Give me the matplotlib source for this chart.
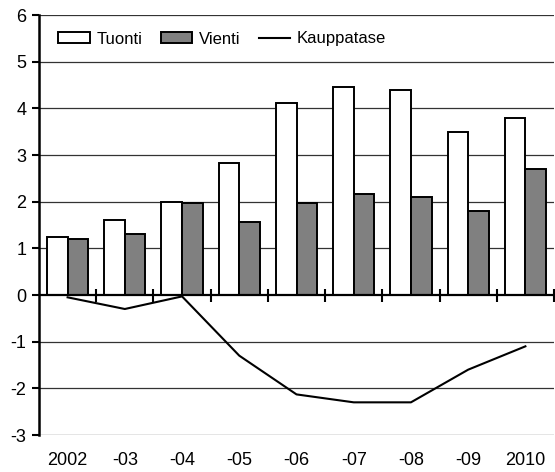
import matplotlib
matplotlib.use("Agg")
import matplotlib.pyplot as plt
import numpy as np
from matplotlib.patches import Patch
from matplotlib.lines import Line2D

plt.rcParams['font.family'] = ['Liberation Sans', 'DejaVu Sans']
plt.rcParams['axes.unicode_minus'] = False

categories = ['2002', '-03', '-04', '-05', '-06', '-07', '-08', '-09', '2010']
tuonti = [1.25, 1.6, 2.0, 2.82, 4.12, 4.45, 4.4, 3.5, 3.8]
vienti = [1.2, 1.3, 1.97, 1.57, 1.97, 2.17, 2.1, 1.8, 2.7]
kauppatase = [-0.05, -0.3, -0.03, -1.3, -2.13, -2.3, -2.3, -1.6, -1.1]
yticks = [-3, -2, -1, 0, 1, 2, 3, 4, 5, 6]

fig = plt.figure(figsize=(5.55, 4.72), dpi=100)
ax = fig.add_axes([39/555, 1-435/472, 515/555, 420/472])

x = np.arange(len(categories))
w = 0.36
ax.bar(x - w/2, tuonti, w, color='white', edgecolor='black', linewidth=1.4, zorder=3)
ax.bar(x + w/2, vienti, w, color='#808080', edgecolor='black', linewidth=1.4, zorder=3)
ax.plot(x, kauppatase, color='black', linewidth=1.5, zorder=4)

ax.set_xlim(-0.5, len(categories) - 0.5)
ax.set_ylim(-3, 6)
ax.set_yticks(yticks)
ax.set_yticklabels([str(v) for v in yticks])
for v in yticks:
    if v != 0:
        ax.axhline(v, color='#333333', linewidth=0.9, zorder=1)
ax.axhline(0, color='black', linewidth=1.6, zorder=5)
# category boundary ticks on zero line
ax.vlines(x[1:] - 0.5, -0.15, 0.12, color='black', linewidth=1.5, zorder=5)
ax.vlines([len(categories) - 0.5], -0.15, 0.12, color='black', linewidth=1.5, zorder=5, clip_on=False)

ax.set_xticks(x)
ax.set_xticklabels(categories)
ax.tick_params(axis='x', length=0, pad=12, labelsize=13)
ax.tick_params(axis='y', length=5, width=1.5, direction='out', pad=4, labelsize=13)

for s in ['top', 'right', 'bottom']:
    ax.spines[s].set_visible(False)
ax.spines['left'].set_linewidth(1.8)
ax.spines['left'].set_zorder(6)

handles = [Patch(facecolor='white', edgecolor='black', linewidth=1.4),
           Patch(facecolor='#808080', edgecolor='black', linewidth=1.4),
           Line2D([0], [0], color='black', linewidth=1.5)]
leg = ax.legend(handles, ['Tuonti', 'Vienti', 'Kauppatase'], ncol=3, frameon=False,
                loc='center left', bbox_to_anchor=(58/555, 1-39/472), bbox_transform=fig.transFigure,
                borderpad=0, borderaxespad=0, handlelength=1.9, handleheight=0.65,
                handletextpad=0.4, columnspacing=1.1, fontsize=12)

fig.savefig('out.png', dpi=100)
